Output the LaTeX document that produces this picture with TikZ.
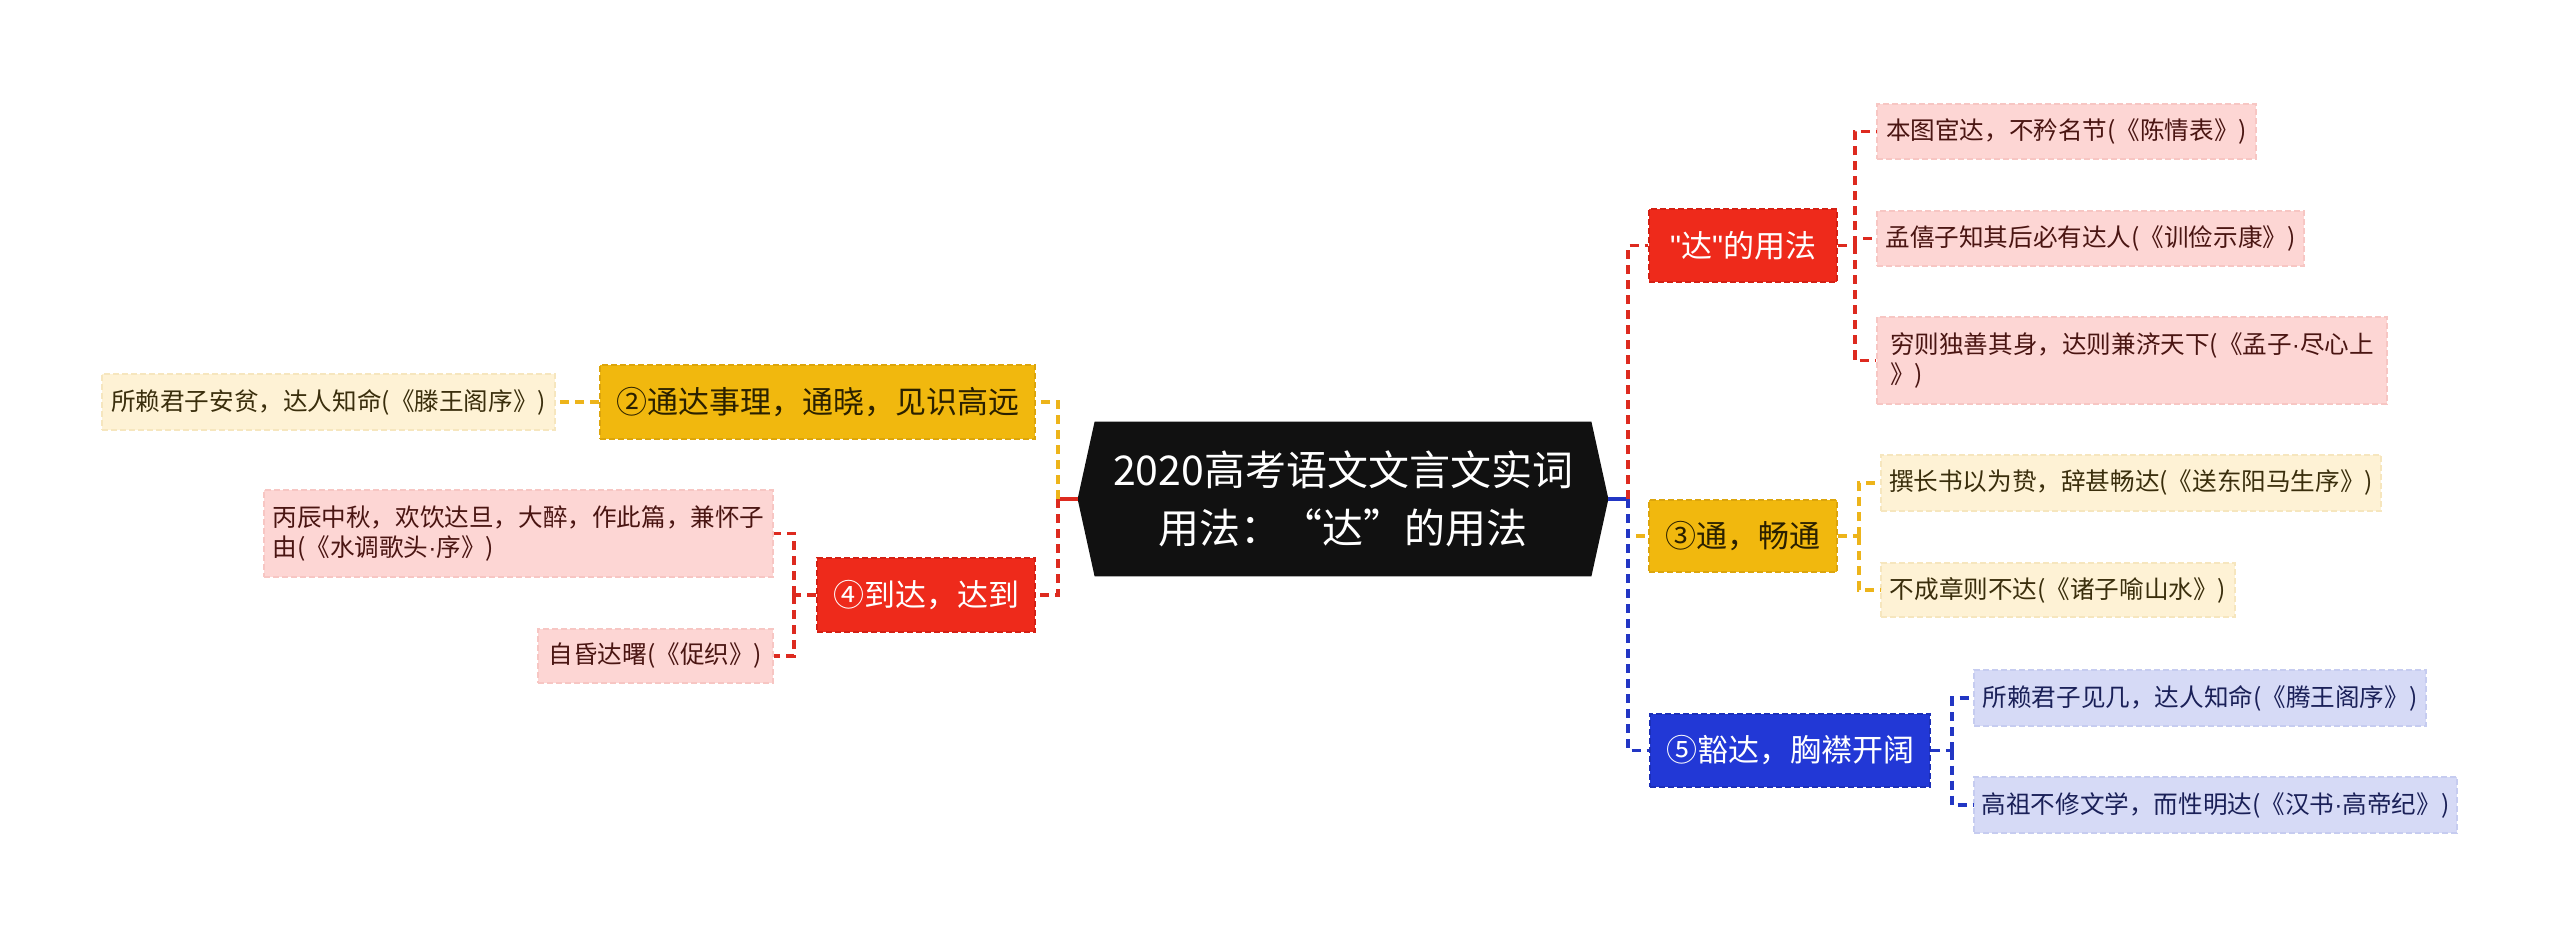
\documentclass[tikz,border=0pt]{standalone}
\usepackage{fontspec}
\setmainfont{Noto Sans CJK SC}
\newfontfamily\lat{Liberation Sans}
\newcommand{\mdot}{{\lat ·}}
\newcommand{\sq}{{\lat\symbol{34}}}
\usetikzlibrary{calc,backgrounds}
\definecolor{rootfill}{HTML}{111111}
\definecolor{redA}{HTML}{EE2A1B}
\definecolor{redAb}{HTML}{D42014}
\definecolor{yelA}{HTML}{F1B80E}
\definecolor{yelAb}{HTML}{DCA50C}
\definecolor{bluA}{HTML}{2238D6}
\definecolor{bluAb}{HTML}{1C2FB8}
\definecolor{redL}{HTML}{FDD6D4}
\definecolor{redLb}{HTML}{F7C6C3}
\definecolor{yelL}{HTML}{FEF2D5}
\definecolor{yelLb}{HTML}{F6E6BE}
\definecolor{bluL}{HTML}{D6DAF6}
\definecolor{bluLb}{HTML}{C6CCF0}
\definecolor{redT}{HTML}{4A1512}
\definecolor{yelT}{HTML}{3A2E0C}
\definecolor{bluT}{HTML}{1A2058}
\definecolor{darkT}{HTML}{2A2000}
\definecolor{redC}{HTML}{DD2A1F}
\definecolor{yelC}{HTML}{EDB41A}
\definecolor{bluC}{HTML}{2236C4}
\tikzset{
  lone/.style={rectangle, inner sep=0pt, minimum height=36.5pt,
    font=\fontsize{15.5}{18}\selectfont, line width=0.9pt,
    dash pattern=on 3pt off 1.5pt},
  leaf/.style={rectangle, inner sep=0pt, minimum height=28pt,
    font=\fontsize{12.3}{15}\selectfont, line width=0.8pt,
    dash pattern=on 3pt off 1.5pt, align=left},
  redone/.style={lone, fill=redA, draw=redAb, text=white},
  yelone/.style={lone, fill=yelA, draw=yelAb, text=darkT},
  bluone/.style={lone, fill=bluA, draw=bluAb, text=white},
  redleaf/.style={leaf, fill=redL, draw=redLb, text=redT},
  yelleaf/.style={leaf, fill=yelL, draw=yelLb, text=yelT},
  bluleaf/.style={leaf, fill=bluL, draw=bluLb, text=bluT},
  link/.style={line width=1.6pt, dash pattern=on 4.5pt off 3pt},
  solidlink/.style={line width=1.6pt},
}
\begin{document}
\begin{tikzpicture}[x=0.5pt,y=-0.5pt]
\useasboundingbox (0,0) rectangle (2560,936);

% root
\node[rectangle, inner sep=0pt, minimum width=265pt, minimum height=77pt,
  text=white, align=center, font=\fontsize{20.5}{29}\selectfont]
  (root) at (1343,499) {2020高考语文文言文实词\\用法：“达”的用法};
\begin{scope}[on background layer]
\fill[rootfill] (root.west) -- ($(root.north west)+(17,0)$) -- ($(root.north east)+(-17,0)$)
  -- (root.east) -- ($(root.south east)+(-17,0)$) -- ($(root.south west)+(17,0)$) -- cycle;
\end{scope}

% level one
\node[redone, minimum width=94pt] (da) at (1743,245.5) {\sq 达\sq 的用法};
\node[yelone, minimum width=94pt, minimum height=36pt] (tong) at (1743,536) {③通，畅通};
\node[bluone, minimum width=140pt] (huo) at (1790,750.5) {⑤豁达，胸襟开阔};
\node[yelone, minimum width=217.5pt, minimum height=37pt] (tongda) at (817.5,402) {②通达事理，通晓，见识高远};
\node[redone, minimum width=109pt, minimum height=37pt] (daoda) at (926,595) {④到达，达到};

% leaves right
\node[redleaf, minimum width=189.5pt, minimum height=27.5pt] (l1) at (2066.5,131.5) {本图宦达，不矜名节(《陈情表》)};
\node[redleaf, minimum width=213.5pt, minimum height=27.5pt] (l2) at (2090.5,238.5) {孟僖子知其后必有达人(《训俭示康》)};
\node[redleaf, minimum width=255pt, minimum height=43.5pt] (l3) at (2132,360.5) {穷则独善其身，达则兼济天下(《孟子\mdot 尽心上\\》)};
\node[yelleaf, minimum width=250pt] (l4) at (2131,483) {撰长书以为贽，辞甚畅达(《送东阳马生序》)};
\node[yelleaf, minimum width=177pt, minimum height=27pt] (l5) at (2058,590) {不成章则不达(《诸子喻山水》)};
\node[bluleaf, minimum width=226pt] (l6) at (2200,698) {所赖君子见几，达人知命(《腾王阁序》)};
\node[bluleaf, minimum width=241.5pt] (l7) at (2215.5,805) {高祖不修文学，而性明达(《汉书\mdot 高帝纪》)};

% leaves left
\node[yelleaf, minimum width=226.5pt] (l8) at (328.5,402) {所赖君子安贫，达人知命(《滕王阁序》)};
\node[redleaf, minimum width=254.5pt, minimum height=43.5pt] (l9) at (518.5,533.5) {丙辰中秋，欢饮达旦，大醉，作此篇，兼怀子\\由(《水调歌头\mdot 序》)};
\node[redleaf, minimum width=117.5pt, minimum height=27pt] (l10) at (655.5,656) {自昏达曙(《促织》)};

% trunks
\coordinate (tl) at (1058,499);
\coordinate (tr) at (1628,499);
\coordinate (t1) at (1855,245.5);
\coordinate (t2) at (1859,536);
\coordinate (t3) at (1952,750.5);
\coordinate (t4) at (794,595);

% root connectors
\draw[solidlink, redC] (root.west) -- (tl);
\draw[link, yelC] (tl) |- (tongda.east);
\draw[link, redC] (tl) |- (daoda.east);
\draw[solidlink, bluC] (root.east) -- (tr);
\draw[link, redC] (tr) |- (da.west);
\draw[link, yelC] (tr) |- (tong.west);
\draw[link, bluC] (tr) |- (huo.west);

% leaf connectors
\draw[link, redC] (da.east) -- (t1);
\draw[link, redC] (t1) |- (l1.west);
\draw[link, redC] (t1) |- (l2.west);
\draw[link, redC] (t1) |- (l3.west);
\draw[link, yelC] (tong.east) -- (t2);
\draw[link, yelC] (t2) |- (l4.west);
\draw[link, yelC] (t2) |- (l5.west);
\draw[link, bluC] (huo.east) -- (t3);
\draw[link, bluC] (t3) |- (l6.west);
\draw[link, bluC] (t3) |- (l7.west);
\draw[link, yelC] (tongda.west) -- (l8.east);
\draw[link, redC] (daoda.west) -- (t4);
\draw[link, redC] (t4) |- (l9.east);
\draw[link, redC] (t4) |- (l10.east);
\end{tikzpicture}
\end{document}
